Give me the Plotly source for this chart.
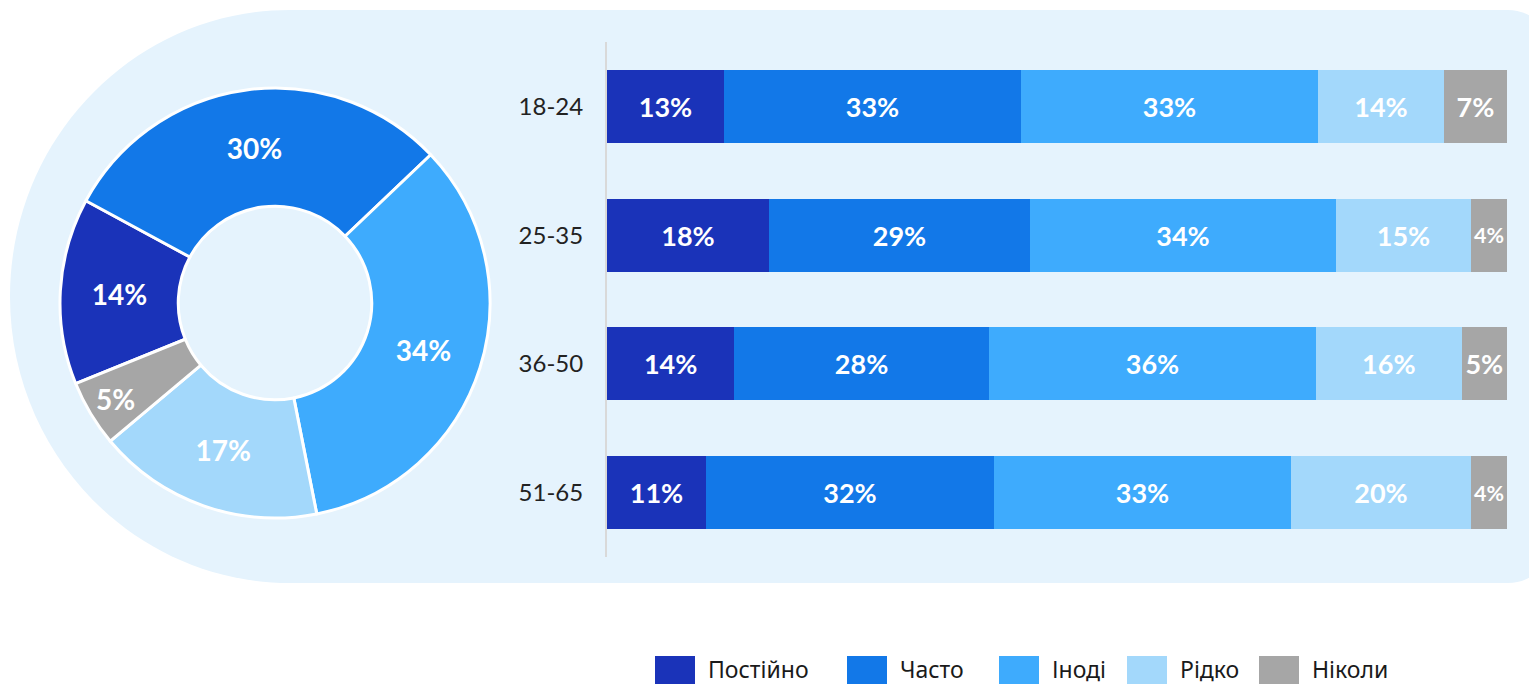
import plotly.graph_objects as go

# ---------------- data ----------------
categories = ["Постійно", "Часто", "Іноді", "Рідко", "Ніколи"]
overall = [14, 30, 34, 17, 5]

age_groups = ["18-24", "25-35", "36-50", "51-65"]
postiyno = [13, 18, 14, 11]
chasto = [33, 29, 28, 32]
inodi = [33, 34, 36, 33]
ridko = [14, 15, 16, 20]
nikoly = [7, 4, 5, 4]
series = [postiyno, chasto, inodi, ridko, nikoly]

# ---------------- styles ----------------
colors = ["#1a33b9", "#1278e8", "#3eabfd", "#a3d8fb", "#a6a6a6"]
PANEL = "#e5f3fd"
OFF = 8                      # default page body margin
W, H = 1537 - OFF, 684 - OFF
LABEL_FONT = dict(family="Lato, 'Noto Sans', sans-serif", size=27, color="white", weight="bold")


def px(x):
    return (x - OFF) / W


def py(y):
    return 1 - (y - OFF) / H


fig = go.Figure()

# donut
fig.add_trace(go.Pie(
    labels=categories,
    values=overall,
    hole=0.45,
    sort=False,
    direction="clockwise",
    rotation=248,
    marker=dict(colors=colors, line=dict(color="white", width=3)),
    texttemplate="%{value}%",
    textposition="inside",
    insidetextorientation="horizontal",
    textfont=dict(LABEL_FONT, size=28),
    domain=dict(x=[px(60), px(490)], y=[py(518), py(88)]),
    showlegend=False,
))

# stacked bars
for name, vals, col in zip(categories, series, colors):
    fig.add_trace(go.Bar(
        name=name,
        y=age_groups,
        x=vals,
        orientation="h",
        marker=dict(color=col, line=dict(width=0)),
        text=[f"{v}%" for v in vals],
        texttemplate="%{text}",
        textposition="inside",
        insidetextanchor="middle",
        textangle=0,
        textfont=LABEL_FONT,
        showlegend=False,
        xaxis="x",
        yaxis="y",
    ))

# background panel path (pixel geometry -> paper)
x0, top, bot, X = 10, 10, 583, 1552
rx = 280
ry = (bot - top) / 2
cx, cy = x0 + rx, top + ry
R = 44
k = 0.5523


def P(x, y):
    return f"{px(x):.5f},{py(y):.5f}"


path = (
    f"M {P(cx, top)} L {P(X - R, top)} "
    f"C {P(X - R + k * R, top)} {P(X, top + R - k * R)} {P(X, top + R)} "
    f"L {P(X, bot - R)} "
    f"C {P(X, bot - R + k * R)} {P(X - R + k * R, bot)} {P(X - R, bot)} "
    f"L {P(cx, bot)} "
    f"C {P(cx - k * rx, bot)} {P(x0, cy + k * ry)} {P(x0, cy)} "
    f"C {P(x0, cy - k * ry)} {P(cx - k * rx, top)} {P(cx, top)} Z"
)
shapes = [dict(type="path", path=path, xref="paper", yref="paper",
               fillcolor=PANEL, line=dict(width=0), layer="below")]

# custom legend
LEG_X = [655, 847, 999, 1127, 1259]
annotations = []
for name, col, lx in zip(categories, colors, LEG_X):
    shapes.append(dict(type="rect", xref="paper", yref="paper",
                       x0=px(lx), x1=px(lx + 40), y0=py(696), y1=py(656),
                       fillcolor=col, line=dict(width=0), layer="above"))
    annotations.append(dict(text=name, x=px(lx + 51), y=py(669), xref="paper", yref="paper",
                            xanchor="left", yanchor="middle", showarrow=False,
                            font=dict(family="'Noto Sans', sans-serif", size=23, color="#1a1a1a")))

fig.update_layout(
    width=W, height=H, autosize=False,
    margin=dict(l=0, r=0, t=0, b=0),
    paper_bgcolor="white",
    plot_bgcolor="rgba(0,0,0,0)",
    barmode="stack",
    barnorm="percent",
    bargap=0.433,
    shapes=shapes,
    annotations=annotations,
    xaxis=dict(domain=[px(607), px(1507)], range=[0, 100], visible=False, fixedrange=True),
    yaxis=dict(domain=[py(557), py(42)], type="category",
               categoryorder="array", categoryarray=age_groups,
               range=[3.5, -0.5], showline=True, linecolor="#d9d9d9", linewidth=2,
               showgrid=False, zeroline=False, ticks="", ticklabelstandoff=17,
               tickfont=dict(family="Lato, 'Noto Sans', sans-serif", size=24, color="#222222")),
)

fig.write_html("out.html")
